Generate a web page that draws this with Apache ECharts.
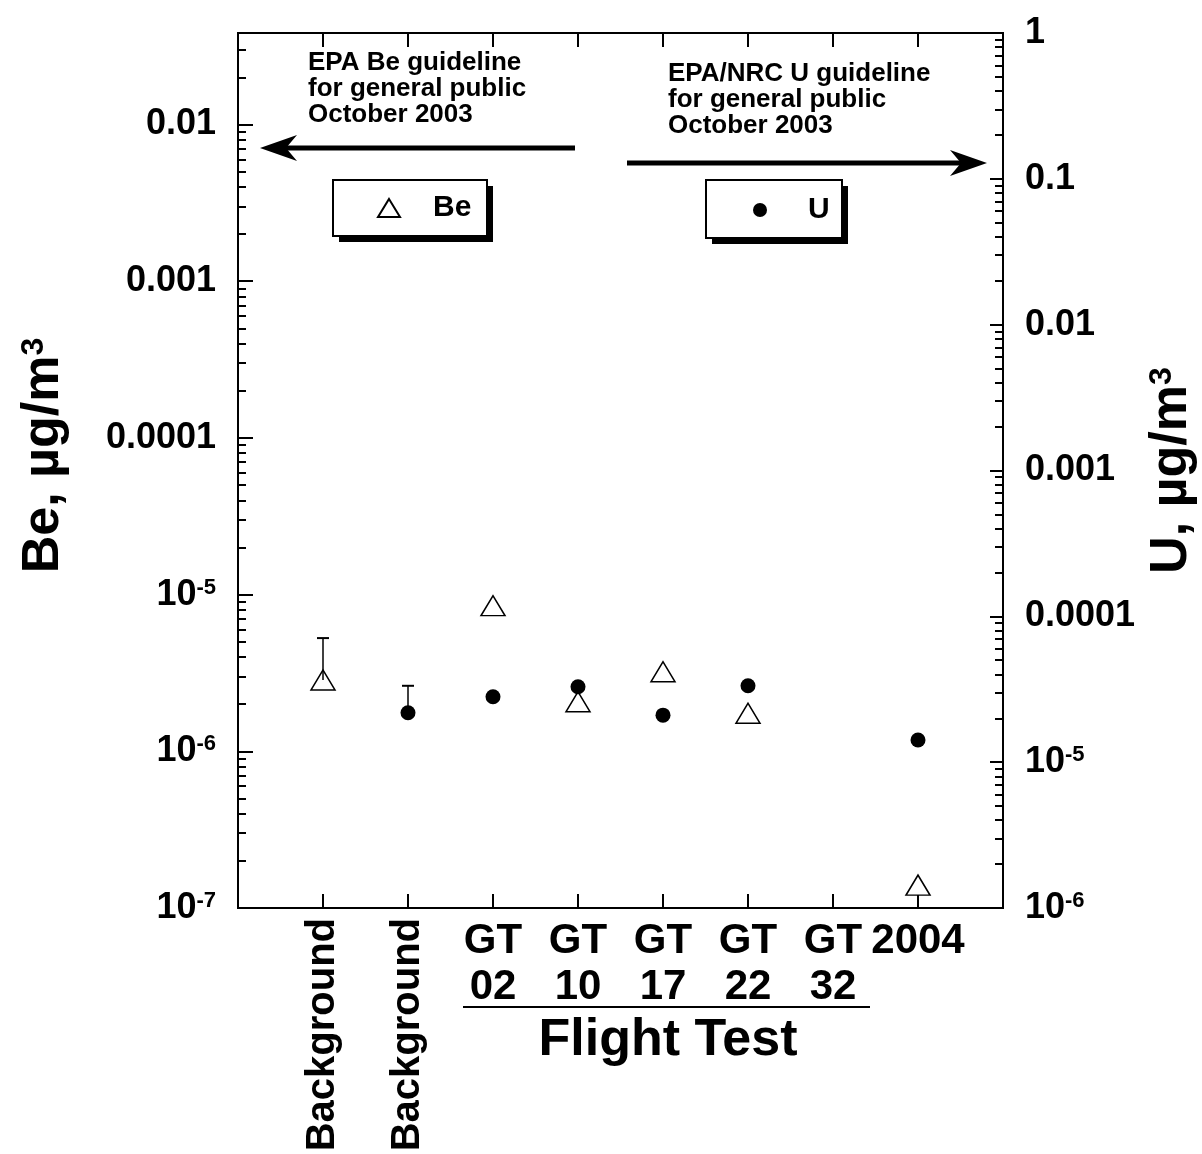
<!DOCTYPE html>
<html>
<head>
<meta charset="utf-8">
<script src="https://cdn.jsdelivr.net/npm/echarts@6/dist/echarts.min.js"></script>
<style>
  html, body { margin: 0; padding: 0; background: #fff; }
  #chart { width: 1202px; height: 1154px; }
</style>
</head>
<body>
<div id="chart"></div>
<script>
// categories along the bottom (empty slots pad both ends)
var categories = ['', 'Background', 'Background', 'GT\n02', 'GT\n10', 'GT\n17', 'GT\n22', 'GT\n32', '2004', ''];
// Be, ug/m3 (left axis)
var beValues = [null, 2.85e-6, null, 8.5e-6, 2.07e-6, 3.22e-6, 1.75e-6, null, 1.4e-7, null];
// U, ug/m3 (right axis)
var uValues = [null, null, 2.18e-5, 2.81e-5, 3.29e-5, 2.1e-5, 3.34e-5, null, 1.42e-5, null];
// [category index, value, upper end of error bar]
var beErrorBars = [[1, 2.85e-6, 5.28e-6]];
var uErrorBars = [[2, 2.18e-5, 3.34e-5]];

var beRange = [1e-7, 0.0384];
var uRange = [1e-6, 1];
var beTicks = [1e-7, 1e-6, 1e-5, 1e-4, 1e-3, 1e-2];
var beTickLabels = ['10{sup|-7}', '10{sup|-6}', '10{sup|-5}', '0.0001', '0.001', '0.01'];
var uTicks = [1e-6, 1e-5, 1e-4, 1e-3, 1e-2, 1e-1, 1];
var uTickLabels = ['10{sup|-6}', '10{sup|-5}', '0.0001', '0.001', '0.01', '0.1', '1'];

var FONT = '"Liberation Sans", Arial, Helvetica, sans-serif';

function minorTicks(majors, range) {
  var out = [];
  majors.forEach(function (m) {
    for (var k = 2; k <= 9; k++) {
      if (m * k <= range[1]) out.push(m * k);
    }
  });
  return out;
}

function tickFormatter(ticks, labels) {
  return function (v) {
    for (var i = 0; i < ticks.length; i++) {
      if (Math.abs(Math.log10(ticks[i]) - Math.log10(v)) < 1e-6) return labels[i];
    }
    return '';
  };
}

var tickLabelStyle = {
  color: '#000',
  fontFamily: FONT,
  fontWeight: 'bold',
  fontSize: 36,
  margin: 22,
  rich: {
    sup: { fontFamily: FONT, fontWeight: 'bold', fontSize: 22, verticalAlign: 'top', lineHeight: 22 }
  }
};

var nameStyle = {
  color: '#000',
  fontFamily: FONT,
  fontWeight: 'bold',
  fontSize: 52,
  rich: {
    sup: { fontFamily: FONT, fontWeight: 'bold', fontSize: 32, verticalAlign: 'top', lineHeight: 30 }
  }
};

var legendText = { color: '#000', fontFamily: FONT, fontWeight: 'bold', fontSize: 30 };
var black = { color: '#000', width: 2 };

function renderErrorBar(params, api) {
  var x = api.value(0);
  var low = api.coord([x, api.value(1)]);
  var high = api.coord([x, api.value(2)]);
  return {
    type: 'group',
    children: [
      { type: 'line', shape: { x1: low[0], y1: low[1], x2: high[0], y2: high[1] }, style: { stroke: '#000', lineWidth: 1.5 } },
      { type: 'line', shape: { x1: high[0] - 6, y1: high[1], x2: high[0] + 6, y2: high[1] }, style: { stroke: '#000', lineWidth: 2 } }
    ]
  };
}

var chart = echarts.init(document.getElementById('chart'));
var option = {
  backgroundColor: '#fff',
  animation: false,
  grid: { left: 238, right: 199, top: 33, bottom: 246, show: true, borderColor: '#000', borderWidth: 2, outerBoundsMode: 'none' },
  legend: [
    {
      data: ['Be'], left: 333, top: 180, selectedMode: false, symbolKeepAspect: true,
      padding: [13, 17, 13, 44], itemWidth: 22, itemHeight: 18,
      textStyle: Object.assign({ padding: [0, 0, 0, 28] }, legendText)
    },
    {
      data: ['U'], left: 706, top: 182, selectedMode: false, symbolKeepAspect: true,
      padding: [13, 12, 13, 47], itemWidth: 14, itemHeight: 14,
      textStyle: Object.assign({ padding: [0, 0, 0, 36] }, legendText)
    }
  ],
  xAxis: [
    {
      type: 'category', data: categories, boundaryGap: false, position: 'bottom',
      axisLine: { show: true, lineStyle: black },
      axisTick: { show: true, inside: true, length: 14, interval: 0, lineStyle: black },
      axisLabel: {
        interval: 0, rotate: 90, margin: 10, color: '#000', fontFamily: FONT, fontWeight: 'bold', fontSize: 40,
        formatter: function (v) { return v === 'Background' ? v : ''; }
      }
    },
    {
      type: 'category', data: categories, boundaryGap: false, position: 'bottom',
      axisLine: { show: false }, axisTick: { show: false },
      axisLabel: {
        interval: 0, margin: 10, color: '#000', fontFamily: FONT, fontWeight: 'bold', fontSize: 42, lineHeight: 46,
        formatter: function (v) { return v === 'Background' ? '' : v; }
      }
    },
    {
      type: 'category', data: categories, boundaryGap: false, position: 'top',
      axisLine: { show: true, lineStyle: black },
      axisTick: { show: true, inside: true, length: 14, interval: 0, lineStyle: black },
      axisLabel: { show: false }
    }
  ],
  yAxis: [
    {
      type: 'log', logBase: 10, position: 'left', min: beRange[0], max: beRange[1],
      axisLine: { show: true, lineStyle: black },
      axisTick: { show: true, inside: true, length: 15, customValues: beTicks, lineStyle: black },
      axisLabel: Object.assign({ customValues: beTicks, formatter: tickFormatter(beTicks, beTickLabels) }, tickLabelStyle),
      splitLine: { show: false },
      name: 'Be, µg/m{sup|3}', nameLocation: 'middle', nameRotate: 90, nameGap: 168,
      nameTextStyle: Object.assign({ padding: [0, 0, 0, 30] }, nameStyle)
    },
    {
      type: 'log', logBase: 10, position: 'left', min: beRange[0], max: beRange[1],
      axisLine: { show: false },
      axisTick: { show: true, inside: true, length: 8, customValues: minorTicks(beTicks, beRange), lineStyle: black },
      axisLabel: { show: false },
      splitLine: { show: false }
    },
    {
      type: 'log', logBase: 10, position: 'right', min: uRange[0], max: uRange[1],
      axisLine: { show: true, lineStyle: black },
      axisTick: { show: true, inside: true, length: 13, customValues: uTicks, lineStyle: black },
      axisLabel: Object.assign({ customValues: uTicks, formatter: tickFormatter(uTicks, uTickLabels) }, tickLabelStyle),
      splitLine: { show: false },
      name: 'U, µg/m{sup|3}', nameLocation: 'middle', nameRotate: 90, nameGap: 127,
      nameTextStyle: nameStyle
    },
    {
      type: 'log', logBase: 10, position: 'right', min: uRange[0], max: uRange[1],
      axisLine: { show: false },
      axisTick: { show: true, inside: true, length: 8, customValues: minorTicks(uTicks, uRange), lineStyle: black },
      axisLabel: { show: false },
      splitLine: { show: false }
    }
  ],
  series: [
    {
      name: 'Be', type: 'scatter', xAxisIndex: 0, yAxisIndex: 0,
      symbol: 'triangle', symbolSize: [24, 20], symbolKeepAspect: true, data: beValues, z: 3,
      itemStyle: { color: '#fff', borderColor: '#000', borderWidth: 1.5, opacity: 1 }
    },
    {
      name: 'U', type: 'scatter', xAxisIndex: 0, yAxisIndex: 2,
      symbol: 'circle', symbolSize: 15, data: uValues, z: 4,
      itemStyle: { color: '#000', opacity: 1 }
    },
    {
      name: 'Be error', type: 'custom', xAxisIndex: 0, yAxisIndex: 0, z: 5,
      data: beErrorBars, encode: { x: 0, y: [1, 2] }, renderItem: renderErrorBar
    },
    {
      name: 'U error', type: 'custom', xAxisIndex: 0, yAxisIndex: 2, z: 5,
      data: uErrorBars, encode: { x: 0, y: [1, 2] }, renderItem: renderErrorBar
    }
  ],
  graphic: [
    // legend boxes with a hard drop shadow
    { type: 'rect', z: 1, shape: { x: 339, y: 186, width: 154, height: 56 }, style: { fill: '#000' } },
    { type: 'rect', z: 2, shape: { x: 333, y: 180, width: 154, height: 56 }, style: { fill: '#fff', stroke: '#000', lineWidth: 2 } },
    { type: 'rect', z: 1, shape: { x: 712, y: 186, width: 136, height: 58 }, style: { fill: '#000' } },
    { type: 'rect', z: 2, shape: { x: 706, y: 180, width: 136, height: 58 }, style: { fill: '#fff', stroke: '#000', lineWidth: 2 } },
    {
      type: 'text', z: 10,
      style: { x: 308, y: 50, text: 'EPA Be guideline\nfor general public\nOctober 2003', font: 'bold 26px ' + FONT, lineHeight: 26, fill: '#000', verticalAlign: 'top' }
    },
    {
      type: 'text', z: 10,
      style: { x: 668, y: 61, text: 'EPA/NRC U guideline\nfor general public\nOctober 2003', font: 'bold 26px ' + FONT, lineHeight: 26, fill: '#000', verticalAlign: 'top' }
    },
    { type: 'line', z: 10, shape: { x1: 284, y1: 148, x2: 575, y2: 148 }, style: { stroke: '#000', lineWidth: 5 } },
    { type: 'polygon', z: 10, shape: { points: [[260, 148], [297, 135], [286, 148], [297, 161]] }, style: { fill: '#000' } },
    { type: 'line', z: 10, shape: { x1: 627, y1: 163, x2: 962, y2: 163 }, style: { stroke: '#000', lineWidth: 5 } },
    { type: 'polygon', z: 10, shape: { points: [[987, 163], [950, 150], [961, 163], [950, 176]] }, style: { fill: '#000' } },
    { type: 'line', z: 10, shape: { x1: 463, y1: 1007, x2: 870, y2: 1007 }, style: { stroke: '#000', lineWidth: 2 } },
    {
      type: 'text', z: 10,
      style: { x: 668, y: 1041, text: 'Flight Test', font: 'bold 52px ' + FONT, fill: '#000', align: 'center', verticalAlign: 'middle' }
    }
  ]
};
chart.setOption(option);
</script>
</body>
</html>
